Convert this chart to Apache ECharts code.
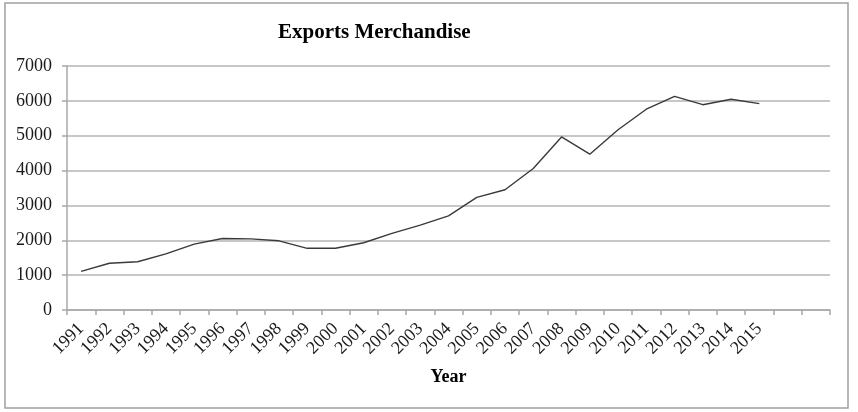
<!DOCTYPE html>
<html>
<head>
<meta charset="utf-8">
<script src="https://cdn.jsdelivr.net/npm/echarts@6/dist/echarts.min.js"></script>
<style>
  html, body { margin: 0; padding: 0; background: #fff; }
  #main { width: 858px; height: 412px; }
</style>
</head>
<body>
<div id="main"></div>
<script>
// years on the axis (two empty slots at the end, as in the original)
var years = ['1991', '1992', '1993', '1994', '1995', '1996', '1997', '1998', '1999', '2000',
  '2001', '2002', '2003', '2004', '2005', '2006', '2007', '2008', '2009', '2010',
  '2011', '2012', '2013', '2014', '2015', '', ''];
// exports merchandise values
var exportsValues = [1110, 1340, 1385, 1610, 1890, 2050, 2040, 1985, 1770, 1770,
  1930, 2200, 2435, 2700, 3230, 3450, 4060, 4965, 4470, 5170,
  5760, 6130, 5890, 6045, 5920];
var yTicks = { min: 0, max: 7000, interval: 1000 };

var serif = '"Liberation Serif", "DejaVu Serif", serif';
var chart = echarts.init(document.getElementById('main'));

chart.setOption({
  backgroundColor: '#fff',
  animation: false,
  title: {
    text: 'Exports Merchandise',
    left: 273,
    top: 17,
    textStyle: { fontFamily: serif, fontSize: 21, fontWeight: 'bold', color: '#000' }
  },
  graphic: [{
    type: 'rect',
    shape: { x: 5, y: 3, width: 843, height: 405 },
    style: { fill: 'none', stroke: '#a0a0a0', lineWidth: 1.5 },
    silent: true
  }],
  grid: { left: 67, right: 28, top: 66, bottom: 102 },
  xAxis: {
    type: 'category',
    data: years,
    boundaryGap: true,
    name: 'Year',
    nameLocation: 'middle',
    nameGap: 58,
    nameTextStyle: { fontFamily: serif, fontSize: 18, fontWeight: 'bold', color: '#000' },
    axisLine: { lineStyle: { color: '#a8a8a8', width: 1.5 } },
    axisTick: { show: true, length: 5, alignWithLabel: false, lineStyle: { color: '#a8a8a8', width: 1.5 } },
    axisLabel: {
      interval: 0,
      rotate: 45,
      margin: 16,
      fontFamily: serif,
      fontSize: 18,
      color: '#1a1a1a'
    }
  },
  yAxis: {
    type: 'value',
    min: yTicks.min,
    max: yTicks.max,
    interval: yTicks.interval,
    axisLine: { show: true, lineStyle: { color: '#a8a8a8', width: 1.5 } },
    axisTick: { show: true, length: 5, lineStyle: { color: '#a8a8a8', width: 1.5 } },
    axisLabel: {
      margin: 15,
      fontFamily: serif,
      fontSize: 18,
      color: '#1a1a1a',
      formatter: function (v) { return String(v); }
    },
    splitLine: { show: true, lineStyle: { color: '#b4b4b4', width: 1.5 } }
  },
  series: [{
    name: 'Exports Merchandise',
    type: 'line',
    data: exportsValues,
    symbol: 'none',
    lineStyle: { color: '#3a3a3a', width: 1.4 }
  }]
});
</script>
</body>
</html>
